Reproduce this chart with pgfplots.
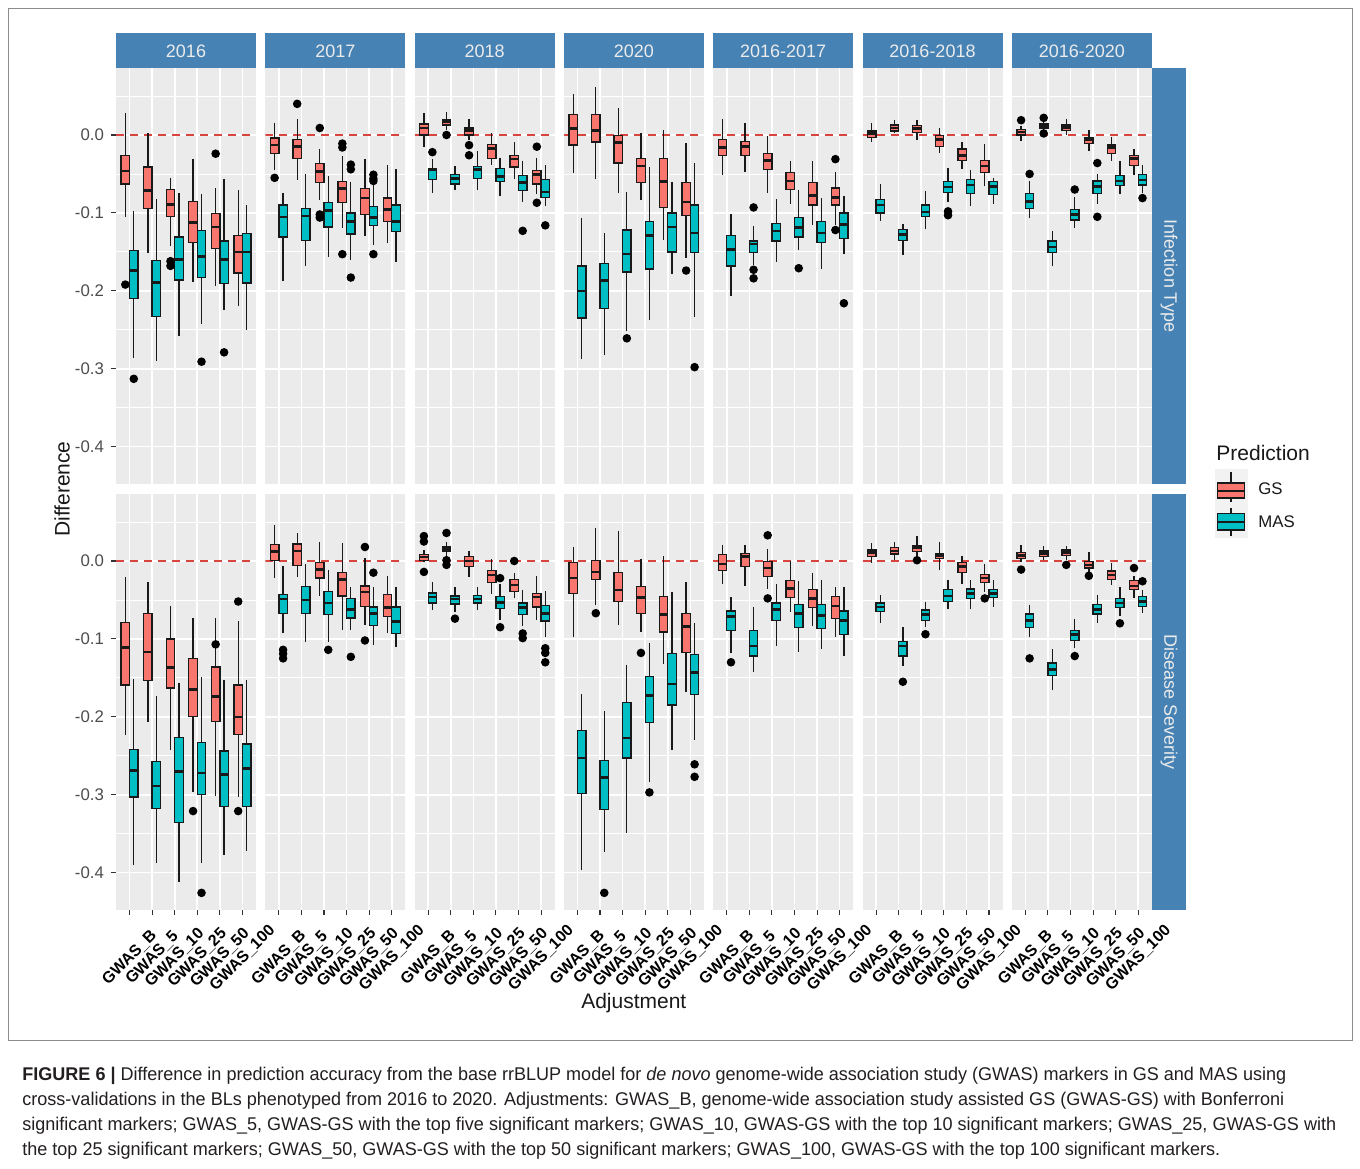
\documentclass[border=0pt]{standalone}
\usepackage{fontspec}
\setmainfont{Liberation Sans}
\newfontfamily\capfont[FakeStretch=0.98]{Liberation Sans}
\usepackage{pgfplots}
\pgfplotsset{compat=1.18}
\usepgfplotslibrary{statistics}

\definecolor{gsc}{HTML}{F8766D}
\definecolor{masc}{HTML}{00BFC4}
\definecolor{panelbg}{HTML}{EBEBEB}
\definecolor{stripc}{HTML}{4682B4}
\definecolor{zeroline}{HTML}{D9453E}
\definecolor{tickg}{HTML}{4D4D4D}
\definecolor{tickmark}{HTML}{333333}
\definecolor{capc}{HTML}{231F20}

\newcommand{\fs}{\fontsize{8.4}{10}\selectfont}
\newcommand{\ft}{\fontsize{10.5}{12}\selectfont}

% \G{category}{upper whisker}{upper quartile}{median}{lower quartile}{lower whisker}{outliers}
\newcommand{\G}[7]{\addplot[bxs, fill=gsc, boxplot prepared={draw position={#1-0.1875}, upper whisker=#2, upper quartile=#3, median=#4, lower quartile=#5, lower whisker=#6}] coordinates {#7};}
\newcommand{\M}[7]{\addplot[bxs, fill=masc, boxplot prepared={draw position={#1+0.1875}, upper whisker=#2, upper quartile=#3, median=#4, lower quartile=#5, lower whisker=#6}] coordinates {#7};}
\newcommand{\zl}{\addplot[zeroline, line width=0.75pt, dash pattern=on 4pt off 3pt] coordinates {(0.4,0) (6.6,0)};}

\pgfplotsset{
  bxs/.style={draw=black!90, line width=0.65pt, mark=*, mark size=1.8pt,
    mark options={fill=black, draw=black, solid},
    boxplot/draw direction=y,
    boxplot/box extend=0.375, boxplot/whisker extend=0,
    boxplot/every median/.style={line width=1.3pt}},
  panel/.style={
    scale only axis, width=70pt, height=208pt, anchor=north west,
    boxplot/draw direction=y,
    xmin=0.4, xmax=6.6, ymin=-0.448, ymax=0.086,
    axis background/.style={fill=panelbg},
    axis line style={draw=none},
    xtick={1,2,3,4,5,6}, ytick={-0.4,-0.3,-0.2,-0.1,0},
    minor ytick={-0.35,-0.25,-0.15,-0.05,0.05},
    grid=both,
    major grid style={white, line width=0.8pt},
    minor grid style={white, line width=0.4pt},
    xticklabel={\mbox{}}, yticklabel={\mbox{}},
    xtick style={draw=none}, ytick style={draw=none},
    minor tick length=0pt,
    tick align=outside, major tick length=2.5pt,
  },
  ylab/.style={yticklabels={-0.4,-0.3,-0.2,-0.1,0.0},
    ytick style={draw=tickmark, line width=0.55pt}, ytick pos=left,
    yticklabel style={font=\fs, text=tickg}},
  xlab/.style={xticklabels={GWAS\_B,GWAS\_5,GWAS\_10,GWAS\_25,GWAS\_50,GWAS\_100},
    xtick style={draw=tickmark, line width=0.55pt}, xtick pos=bottom,
    xticklabel style={font=\bfseries\fontsize{8}{10}\selectfont, text=black, rotate=45, anchor=center},
    xticklabel shift=21.5pt},
}

\begin{document}
\begin{tikzpicture}
\useasboundingbox (0,0) rectangle (680pt,-584pt);
\fill[white] (0,0) rectangle (680pt,-584pt);
\draw[black!45, line width=0.5pt] (4pt,-4pt) rectangle (676pt,-520pt);

% ===================== Infection Type =====================
% 2016
\begin{axis}[panel, ylab, at={(58pt,-34pt)}]
\zl
\G{1}{0.028}{-0.026}{-0.046}{-0.063}{-0.105}{(0,-0.192)}
\M{1}{-0.098}{-0.148}{-0.174}{-0.210}{-0.286}{(0,-0.313)}
\G{2}{0.003}{-0.041}{-0.071}{-0.094}{-0.152}{}
\M{2}{-0.082}{-0.161}{-0.189}{-0.233}{-0.290}{}
\G{3}{-0.055}{-0.070}{-0.089}{-0.105}{-0.143}{(0,-0.162) (0,-0.168)}
\M{3}{-0.075}{-0.131}{-0.160}{-0.186}{-0.258}{}
\G{4}{-0.031}{-0.085}{-0.112}{-0.138}{-0.189}{}
\M{4}{-0.076}{-0.123}{-0.156}{-0.183}{-0.243}{(0,-0.291)}
\G{5}{-0.068}{-0.101}{-0.118}{-0.146}{-0.194}{(0,-0.024)}
\M{5}{-0.056}{-0.136}{-0.160}{-0.191}{-0.224}{(0,-0.279)}
\G{6}{-0.071}{-0.129}{-0.150}{-0.177}{-0.220}{}
\M{6}{-0.090}{-0.126}{-0.150}{-0.190}{-0.250}{}
\end{axis}
% 2017
\begin{axis}[panel, at={(132.65pt,-34pt)}]
\zl
\G{1}{0.016}{-0.004}{-0.013}{-0.024}{-0.045}{(0,-0.055)}
\M{1}{-0.074}{-0.090}{-0.105}{-0.131}{-0.188}{}
\G{2}{0.020}{-0.006}{-0.015}{-0.030}{-0.058}{(0,0.040)}
\M{2}{-0.050}{-0.094}{-0.104}{-0.135}{-0.168}{}
\G{3}{-0.018}{-0.037}{-0.047}{-0.061}{-0.084}{(0,0.009) (0,-0.102) (0,-0.106)}
\M{3}{-0.053}{-0.087}{-0.097}{-0.118}{-0.156}{}
\G{4}{-0.027}{-0.060}{-0.069}{-0.087}{-0.120}{(0,-0.011) (0,-0.016) (0,-0.153)}
\M{4}{-0.060}{-0.100}{-0.111}{-0.127}{-0.161}{(0,-0.038) (0,-0.044) (0,-0.183)}
\G{5}{-0.031}{-0.069}{-0.081}{-0.102}{-0.130}{}
\M{5}{-0.063}{-0.092}{-0.106}{-0.116}{-0.141}{(0,-0.051) (0,-0.056) (0,-0.059) (0,-0.153)}
\G{6}{-0.039}{-0.081}{-0.096}{-0.111}{-0.139}{}
\M{6}{-0.044}{-0.090}{-0.111}{-0.124}{-0.163}{}
\end{axis}
% 2018
\begin{axis}[panel, at={(207.3pt,-34pt)}]
\zl
\G{1}{0.028}{0.014}{0.009}{0.000}{-0.015}{}
\M{1}{-0.031}{-0.043}{-0.045}{-0.057}{-0.074}{(0,-0.022)}
\G{2}{0.030}{0.020}{0.017}{0.013}{0.007}{(0,0.0)}
\M{2}{-0.040}{-0.051}{-0.056}{-0.063}{-0.071}{}
\G{3}{0.020}{0.009}{0.006}{0.000}{-0.006}{(0,-0.013) (0,-0.026)}
\M{3}{-0.021}{-0.040}{-0.044}{-0.056}{-0.071}{}
\G{4}{0.002}{-0.012}{-0.017}{-0.030}{-0.038}{}
\M{4}{-0.029}{-0.043}{-0.053}{-0.060}{-0.078}{}
\G{5}{-0.009}{-0.026}{-0.031}{-0.041}{-0.056}{}
\M{5}{-0.033}{-0.052}{-0.061}{-0.071}{-0.086}{(0,-0.123)}
\G{6}{-0.029}{-0.046}{-0.051}{-0.063}{-0.076}{(0,-0.015) (0,-0.087)}
\M{6}{-0.039}{-0.057}{-0.073}{-0.080}{-0.091}{(0,-0.116)}
\end{axis}
% 2020
\begin{axis}[panel, at={(281.95pt,-34pt)}]
\zl
\G{1}{0.052}{0.026}{0.008}{-0.013}{-0.049}{}
\M{1}{-0.106}{-0.168}{-0.200}{-0.235}{-0.288}{}
\G{2}{0.061}{0.026}{0.006}{-0.009}{-0.057}{}
\M{2}{-0.126}{-0.165}{-0.187}{-0.223}{-0.283}{}
\G{3}{0.035}{-0.001}{-0.010}{-0.036}{-0.075}{}
\M{3}{-0.073}{-0.122}{-0.153}{-0.176}{-0.251}{(0,-0.261)}
\G{4}{0.003}{-0.030}{-0.040}{-0.061}{-0.084}{}
\M{4}{-0.041}{-0.111}{-0.129}{-0.172}{-0.238}{}
\G{5}{0.006}{-0.030}{-0.060}{-0.093}{-0.135}{}
\M{5}{-0.060}{-0.100}{-0.118}{-0.150}{-0.178}{}
\G{6}{-0.010}{-0.061}{-0.086}{-0.103}{-0.158}{(0,-0.174)}
\M{6}{-0.036}{-0.090}{-0.126}{-0.151}{-0.233}{(0,-0.298)}
\end{axis}
% 2016-2017
\begin{axis}[panel, at={(356.6pt,-34pt)}]
\zl
\G{1}{0.020}{-0.006}{-0.016}{-0.026}{-0.051}{}
\M{1}{-0.101}{-0.129}{-0.147}{-0.168}{-0.207}{}
\G{2}{0.016}{-0.008}{-0.015}{-0.026}{-0.048}{}
\M{2}{-0.117}{-0.136}{-0.140}{-0.151}{-0.167}{(0,-0.093) (0,-0.173) (0,-0.184)}
\G{3}{-0.001}{-0.024}{-0.033}{-0.044}{-0.075}{}
\M{3}{-0.082}{-0.114}{-0.123}{-0.136}{-0.163}{}
\G{4}{-0.033}{-0.048}{-0.059}{-0.070}{-0.089}{}
\M{4}{-0.071}{-0.106}{-0.119}{-0.131}{-0.148}{(0,-0.171)}
\G{5}{-0.034}{-0.061}{-0.078}{-0.090}{-0.115}{}
\M{5}{-0.081}{-0.111}{-0.126}{-0.138}{-0.172}{}
\G{6}{-0.048}{-0.068}{-0.080}{-0.090}{-0.116}{(0,-0.031) (0,-0.122)}
\M{6}{-0.078}{-0.100}{-0.115}{-0.133}{-0.153}{(0,-0.216)}
\end{axis}
% 2016-2018
\begin{axis}[panel, at={(431.25pt,-34pt)}]
\zl
\G{1}{0.016}{0.005}{0.002}{-0.003}{-0.009}{}
\M{1}{-0.063}{-0.083}{-0.090}{-0.100}{-0.110}{}
\G{2}{0.019}{0.013}{0.009}{0.005}{0.002}{}
\M{2}{-0.114}{-0.121}{-0.128}{-0.135}{-0.154}{}
\G{3}{0.019}{0.012}{0.008}{0.003}{-0.007}{}
\M{3}{-0.072}{-0.090}{-0.099}{-0.105}{-0.121}{}
\G{4}{0.009}{-0.001}{-0.006}{-0.015}{-0.023}{}
\M{4}{-0.042}{-0.060}{-0.067}{-0.074}{-0.086}{(0,-0.098) (0,-0.103)}
\G{5}{-0.009}{-0.018}{-0.026}{-0.033}{-0.043}{}
\M{5}{-0.045}{-0.057}{-0.064}{-0.075}{-0.091}{}
\G{6}{-0.012}{-0.033}{-0.040}{-0.048}{-0.066}{}
\M{6}{-0.055}{-0.060}{-0.066}{-0.076}{-0.089}{}
\end{axis}
% 2016-2020
\begin{axis}[panel, at={(505.9pt,-34pt)}]
\zl
\G{1}{0.012}{0.007}{0.004}{0.000}{-0.008}{(0,0.019)}
\M{1}{-0.059}{-0.075}{-0.085}{-0.094}{-0.107}{(0,-0.050)}
\G{2}{0.017}{0.015}{0.012}{0.009}{0.006}{(0,0.022) (0,0.002)}
\M{2}{-0.123}{-0.136}{-0.144}{-0.151}{-0.168}{}
\G{3}{0.021}{0.013}{0.010}{0.006}{0.000}{}
\M{3}{-0.079}{-0.096}{-0.102}{-0.109}{-0.120}{(0,-0.070)}
\G{4}{0.007}{-0.003}{-0.006}{-0.011}{-0.021}{}
\M{4}{-0.050}{-0.059}{-0.066}{-0.075}{-0.088}{(0,-0.036) (0,-0.105)}
\G{5}{-0.003}{-0.013}{-0.016}{-0.024}{-0.033}{}
\M{5}{-0.033}{-0.052}{-0.059}{-0.065}{-0.076}{}
\G{6}{-0.018}{-0.026}{-0.030}{-0.039}{-0.051}{}
\M{6}{-0.038}{-0.051}{-0.058}{-0.064}{-0.074}{(0,-0.081)}
\end{axis}

% ===================== Disease Severity =====================
% 2016
\begin{axis}[panel, ylab, xlab, at={(58pt,-247pt)}]
\zl
\G{1}{-0.021}{-0.079}{-0.111}{-0.159}{-0.223}{}
\M{1}{-0.151}{-0.242}{-0.269}{-0.303}{-0.390}{}
\G{2}{-0.027}{-0.067}{-0.117}{-0.153}{-0.207}{}
\M{2}{-0.173}{-0.257}{-0.289}{-0.318}{-0.388}{}
\G{3}{-0.058}{-0.100}{-0.137}{-0.163}{-0.242}{}
\M{3}{-0.156}{-0.227}{-0.270}{-0.336}{-0.412}{}
\G{4}{-0.073}{-0.125}{-0.165}{-0.200}{-0.297}{(0,-0.321)}
\M{4}{-0.149}{-0.233}{-0.272}{-0.300}{-0.388}{(0,-0.426)}
\G{5}{-0.073}{-0.136}{-0.174}{-0.206}{-0.302}{(0,-0.107)}
\M{5}{-0.153}{-0.244}{-0.274}{-0.315}{-0.378}{}
\G{6}{-0.077}{-0.159}{-0.200}{-0.223}{-0.303}{(0,-0.052) (0,-0.321)}
\M{6}{-0.153}{-0.235}{-0.266}{-0.315}{-0.372}{}
\end{axis}
% 2017
\begin{axis}[panel, xlab, at={(132.65pt,-247pt)}]
\zl
\G{1}{0.046}{0.021}{0.012}{0.001}{-0.022}{}
\M{1}{-0.006}{-0.043}{-0.049}{-0.067}{-0.093}{(0,-0.114) (0,-0.119) (0,-0.125)}
\G{2}{0.036}{0.022}{0.013}{-0.006}{-0.021}{}
\M{2}{-0.004}{-0.033}{-0.050}{-0.067}{-0.104}{}
\G{3}{0.025}{-0.002}{-0.011}{-0.022}{-0.045}{}
\M{3}{-0.011}{-0.039}{-0.054}{-0.069}{-0.104}{(0,-0.114)}
\G{4}{0.023}{-0.015}{-0.024}{-0.045}{-0.088}{}
\M{4}{-0.034}{-0.048}{-0.062}{-0.073}{-0.089}{(0,-0.123)}
\G{5}{0.004}{-0.032}{-0.040}{-0.058}{-0.082}{(0,0.018) (0,-0.102)}
\M{5}{-0.034}{-0.059}{-0.067}{-0.083}{-0.108}{(0,-0.015)}
\G{6}{-0.019}{-0.043}{-0.060}{-0.071}{-0.093}{}
\M{6}{-0.034}{-0.059}{-0.078}{-0.093}{-0.110}{}
\end{axis}
% 2018
\begin{axis}[panel, xlab, at={(207.3pt,-247pt)}]
\zl
\G{1}{0.014}{0.008}{0.005}{0.001}{-0.001}{(0,0.032) (0,0.025) (0,-0.014)}
\M{1}{-0.027}{-0.041}{-0.046}{-0.054}{-0.063}{}
\G{2}{0.025}{0.018}{0.015}{0.012}{0.006}{(0,0.036) (0,0.001) (0,-0.005)}
\M{2}{-0.034}{-0.045}{-0.049}{-0.055}{-0.065}{(0,-0.074)}
\G{3}{0.013}{0.006}{0.000}{-0.007}{-0.021}{}
\M{3}{-0.034}{-0.044}{-0.049}{-0.054}{-0.063}{}
\G{4}{0.002}{-0.012}{-0.018}{-0.028}{-0.042}{}
\M{4}{-0.030}{-0.046}{-0.053}{-0.061}{-0.076}{(0,-0.022) (0,-0.085)}
\G{5}{-0.016}{-0.024}{-0.031}{-0.039}{-0.048}{(0,0.0)}
\M{5}{-0.037}{-0.054}{-0.060}{-0.069}{-0.084}{(0,-0.093) (0,-0.099)}
\G{6}{-0.019}{-0.042}{-0.046}{-0.059}{-0.076}{}
\M{6}{-0.038}{-0.057}{-0.067}{-0.077}{-0.097}{(0,-0.112) (0,-0.118) (0,-0.130)}
\end{axis}
% 2020
\begin{axis}[panel, xlab, at={(281.95pt,-247pt)}]
\zl
\G{1}{0.018}{-0.002}{-0.022}{-0.042}{-0.098}{}
\M{1}{-0.171}{-0.218}{-0.253}{-0.298}{-0.397}{}
\G{2}{0.043}{0.001}{-0.014}{-0.024}{-0.057}{(0,-0.067)}
\M{2}{-0.193}{-0.256}{-0.278}{-0.319}{-0.373}{(0,-0.426)}
\G{3}{0.039}{-0.015}{-0.037}{-0.052}{-0.082}{}
\M{3}{-0.133}{-0.182}{-0.227}{-0.253}{-0.349}{}
\G{4}{0.003}{-0.033}{-0.047}{-0.067}{-0.091}{(0,-0.118)}
\M{4}{-0.105}{-0.148}{-0.173}{-0.207}{-0.284}{(0,-0.297)}
\G{5}{0.006}{-0.046}{-0.069}{-0.091}{-0.132}{}
\M{5}{-0.040}{-0.119}{-0.158}{-0.185}{-0.242}{}
\G{6}{-0.027}{-0.067}{-0.084}{-0.117}{-0.168}{}
\M{6}{-0.080}{-0.120}{-0.143}{-0.171}{-0.230}{(0,-0.261) (0,-0.277)}
\end{axis}
% 2016-2017
\begin{axis}[panel, xlab, at={(356.6pt,-247pt)}]
\zl
\G{1}{0.021}{0.008}{-0.004}{-0.012}{-0.030}{}
\M{1}{-0.046}{-0.064}{-0.071}{-0.089}{-0.118}{(0,-0.130)}
\G{2}{0.021}{0.010}{0.006}{-0.007}{-0.032}{}
\M{2}{-0.059}{-0.089}{-0.109}{-0.122}{-0.143}{}
\G{3}{0.015}{-0.001}{-0.009}{-0.020}{-0.036}{(0,0.033) (0,-0.048)}
\M{3}{-0.030}{-0.054}{-0.062}{-0.076}{-0.109}{}
\G{4}{0.000}{-0.025}{-0.035}{-0.047}{-0.065}{}
\M{4}{-0.026}{-0.056}{-0.067}{-0.085}{-0.117}{}
\G{5}{-0.016}{-0.037}{-0.048}{-0.060}{-0.083}{}
\M{5}{-0.024}{-0.056}{-0.070}{-0.087}{-0.113}{}
\G{6}{-0.033}{-0.046}{-0.058}{-0.074}{-0.097}{}
\M{6}{-0.033}{-0.064}{-0.076}{-0.094}{-0.122}{}
\end{axis}
% 2016-2018
\begin{axis}[panel, xlab, at={(431.25pt,-247pt)}]
\zl
\G{1}{0.023}{0.014}{0.011}{0.006}{-0.002}{}
\M{1}{-0.044}{-0.054}{-0.059}{-0.065}{-0.079}{}
\G{2}{0.025}{0.017}{0.013}{0.009}{0.001}{}
\M{2}{-0.085}{-0.103}{-0.109}{-0.122}{-0.135}{(0,-0.155)}
\G{3}{0.032}{0.020}{0.017}{0.012}{0.006}{(0,0.001)}
\M{3}{-0.052}{-0.063}{-0.069}{-0.076}{-0.085}{(0,-0.094)}
\G{4}{0.025}{0.010}{0.007}{0.003}{-0.012}{}
\M{4}{-0.025}{-0.037}{-0.045}{-0.052}{-0.062}{}
\G{5}{0.006}{-0.002}{-0.007}{-0.015}{-0.030}{}
\M{5}{-0.025}{-0.036}{-0.042}{-0.048}{-0.062}{}
\G{6}{-0.004}{-0.017}{-0.022}{-0.028}{-0.040}{(0,-0.048)}
\M{6}{-0.024}{-0.037}{-0.042}{-0.047}{-0.059}{}
\end{axis}
% 2016-2020
\begin{axis}[panel, xlab, at={(505.9pt,-247pt)}]
\zl
\G{1}{0.021}{0.011}{0.007}{0.003}{-0.001}{(0,-0.011)}
\M{1}{-0.057}{-0.068}{-0.076}{-0.085}{-0.098}{(0,-0.125)}
\G{2}{0.019}{0.013}{0.010}{0.006}{0.001}{}
\M{2}{-0.113}{-0.131}{-0.139}{-0.147}{-0.166}{}
\G{3}{0.019}{0.014}{0.011}{0.007}{0.001}{(0,-0.005)}
\M{3}{-0.075}{-0.089}{-0.094}{-0.102}{-0.112}{(0,-0.122)}
\G{4}{0.012}{-0.001}{-0.005}{-0.009}{-0.014}{(0,-0.019)}
\M{4}{-0.043}{-0.056}{-0.062}{-0.068}{-0.079}{}
\G{5}{-0.002}{-0.013}{-0.018}{-0.024}{-0.031}{}
\M{5}{-0.033}{-0.048}{-0.054}{-0.060}{-0.070}{(0,-0.080)}
\G{6}{-0.019}{-0.025}{-0.032}{-0.037}{-0.047}{(0,-0.009)}
\M{6}{-0.037}{-0.046}{-0.052}{-0.058}{-0.067}{(0,-0.026)}
\end{axis}

% strips
\foreach \x/\lab in {58/2016, 132.65/2017, 207.3/2018, 281.95/2020, 356.6/2016-2017, 431.25/2016-2018, 505.9/2016-2020}{
  \fill[stripc] (\x pt,-16.5pt) rectangle ({\x pt+70pt},-34pt);
  \node[text=white!92!black, font=\fontsize{9}{10}\selectfont] at ({\x pt+35pt},-25.5pt) {\lab};
}
\fill[stripc] (575.9pt,-34pt) rectangle (593pt,-242pt);
\fill[stripc] (575.9pt,-247pt) rectangle (593pt,-455pt);
\node[rotate=-90, text=white!92!black, font=\fontsize{9}{10}\selectfont] at (584.5pt,-138pt) {Infection Type};
\node[rotate=-90, text=white!92!black, font=\fontsize{9}{10}\selectfont] at (584.5pt,-351pt) {Disease Severity};

% axis titles
\node[rotate=90, font=\ft, text=black!90] at (31pt,-244.5pt) {Difference};
\node[font=\ft, text=black!90] at (316.9pt,-501.5pt) {Adjustment};

% legend
\node[anchor=west, font=\ft, text=black!90, inner sep=0pt] at (608pt,-226.5pt) {Prediction};
\fill[black!5] (607.5pt,-234.5pt) rectangle (624pt,-269pt);
\draw[black!90, line width=0.6pt] (615.5pt,-235.8pt) -- (615.5pt,-250.8pt);
\filldraw[fill=gsc, draw=black!90, line width=0.6pt] (608.8pt,-241.5pt) rectangle (622.2pt,-249pt);
\draw[black!90, line width=1.1pt] (608.8pt,-245.3pt) -- (622.2pt,-245.3pt);
\draw[black!90, line width=0.6pt] (615.5pt,-254pt) -- (615.5pt,-268pt);
\filldraw[fill=masc, draw=black!90, line width=0.6pt] (608.8pt,-256.8pt) rectangle (622.2pt,-265pt);
\draw[black!90, line width=1.1pt] (608.8pt,-260.9pt) -- (622.2pt,-260.9pt);
\node[anchor=west, font=\fs, text=black!90, inner sep=0pt] at (629pt,-244.5pt) {GS};
\node[anchor=west, font=\fs, text=black!90, inner sep=0pt] at (629pt,-261pt) {MAS};

% caption
\begin{scope}[every node/.style={anchor=base west, inner sep=0pt, text=capc, font=\capfont\fontsize{9.2}{11}\selectfont}]
\node at (11pt,-540pt) {\textbf{FIGURE 6 |} Difference in prediction accuracy from the base rrBLUP model for \textit{de novo} genome-wide association study (GWAS) markers in GS and MAS using};
\node at (11pt,-552.5pt) {cross-validations in the BLs phenotyped from 2016 to 2020. Adjustments: GWAS\_B, genome-wide association study assisted GS (GWAS-GS) with Bonferroni};
\node at (11pt,-565pt) {significant markers; GWAS\_5, GWAS-GS with the top five significant markers; GWAS\_10, GWAS-GS with the top 10 significant markers; GWAS\_25, GWAS-GS with};
\node at (11pt,-577.5pt) {the top 25 significant markers; GWAS\_50, GWAS-GS with the top 50 significant markers; GWAS\_100, GWAS-GS with the top 100 significant markers.};
\end{scope}
\end{tikzpicture}
\end{document}
